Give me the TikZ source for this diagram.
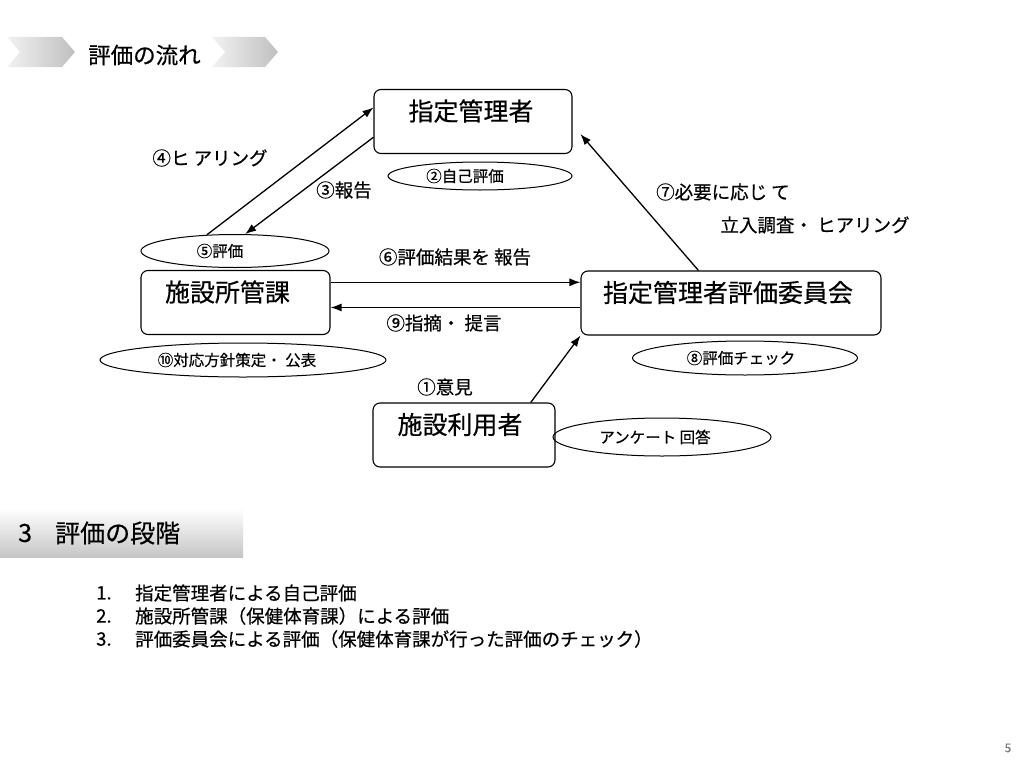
\documentclass[tikz,border=0pt]{standalone}
\usepackage{fontspec}
\setmainfont{Noto Sans CJK JP}[FakeBold=0.5]
\usetikzlibrary{shapes.geometric,arrows.meta}

\def\boxfs{\fontsize{25}{28}\selectfont}
\def\lblfs{\fontsize{18.5}{21}\selectfont}
\def\ovalfs{\fontsize{15.5}{18}\selectfont}
\def\listfs{\fontsize{18.5}{21}\selectfont}
\def\secfs{\fontsize{25}{28}\selectfont}
\def\headfs{\fontsize{22.5}{25}\selectfont}
\def\ovallist{{(480,176)/self/184/28/30/②自己評価}, {(235,251)/evsec/188/33/30/⑤評価}, {(243,360)/plan/286/34/12/⑩対応方針策定・ 公表}, {(745,358)/check/225/34/8/⑧評価チェック}, {(662,437)/survey/218/38/14/アンケート 回答}}
\def\lbllist{{(210,158)/hear/④ヒ アリング}, {(344,190)/report/③報告}, {(455,257)/result/⑥評価結果を 報告}, {(444,323)/advice/⑨指摘・ 提言}, {(723,192)/need/⑦必要に応じ て}, {(815,225)/visit/立入調査・ ヒアリング}, {(445,387)/opinion/①意見}}
\tikzstyle{flow} = [draw, line width=1.3pt, -{Latex[length=11pt,width=8pt]}]
\tikzstyle{orgbox}=[draw, line width=1.1pt, rounded corners=7pt, inner sep=0pt, text height=31pt, text depth=33pt, font=\boxfs]
\tikzstyle{oval}=[draw, ellipse, line width=1pt, inner sep=0pt, font=\ovalfs]
\tikzstyle{lbl}=[inner sep=0pt, font=\lblfs]
\tikzstyle{chevron}=[left color=gray!10, right color=gray!50, draw=none]
\tikzstyle{plain}=[inner sep=0pt, anchor=west]

\begin{document}
\begin{tikzpicture}[x=1pt,y=-1pt]
  \useasboundingbox (0,0) rectangle (1024,768);
  % title bar
  \path[chevron] (7,37) -- (62,37) -- (75,52) -- (62,67) -- (7,67) -- (20,52) -- cycle;
  \path[chevron] (212,37) -- (265,37) -- (278,52) -- (265,67) -- (212,67) -- (225,52) -- cycle;
  \node[plain, font=\headfs] (title) at (88,55) {評価の流れ};

  \node[orgbox, minimum width=198pt] (mgr) at (473,121.5) {指定管理者\kern4pt};
  \node[orgbox, minimum width=189pt] (sec) at (235.5,302.5) {施設所管課\kern16pt};
  \node[orgbox, minimum width=300pt] (cmt) at (731,303) {指定管理者評価委員会\kern6pt};
  \node[orgbox, minimum width=182pt] (usr) at (464,435) {施設利用者\kern8pt};

  \foreach \pos/\name/\w/\h/\off/\txt in \ovallist {
    \node[oval, minimum width=\w pt, minimum height=\h pt] (\name) at \pos {\txt\kern\off pt};
  }
  \foreach \pos/\name/\txt in \lbllist {
    \node[lbl] (\name) at \pos {\txt};
  }

  \draw[flow] (evsec.150) -- (mgr.172);
  \draw[flow] (mgr.189) -- (evsec.59);
  \draw[flow] (sec.12) -- (sec.12 -| cmt.west);
  \draw[flow] (sec.-3 -| cmt.west) -- (sec.-3);
  \draw[flow, shorten >=12pt] (cmt.135) -- (mgr.-2);
  \draw[flow] (usr.26) -- (cmt.south west);

  % section
  \shade[top color=white, bottom color=gray!45] (0,508) rectangle (243,557);
  \node[plain, font=\secfs] (secnum) at (18,533) {3};
  \node[plain, font=\secfs] (sectitle) at (55,533) {評価の段階};
  \foreach \i/\y/\txt in {1/593/指定管理者による自己評価, 2/616/施設所管課（保健体育課）による評価, 3/639/評価委員会による評価（保健体育課が行った評価のチェック）} {
    \node[plain, font=\listfs] (num\i) at (96,\y) {\i.};
    \node[plain, font=\listfs] (item\i) at (135,\y) {\txt};
  }
  \node[font=\fontsize{12}{14}\selectfont, text=gray] (page) at (1008,748) {5};
\end{tikzpicture}
\end{document}
